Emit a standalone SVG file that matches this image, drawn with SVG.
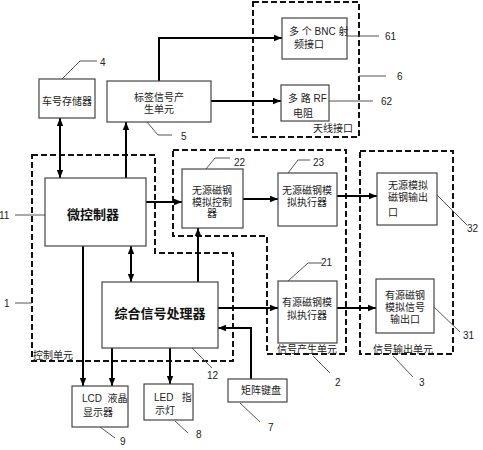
<svg xmlns="http://www.w3.org/2000/svg" width="483" height="450" viewBox="0 0 483 450">
<style>
text{font-family:"Liberation Sans","Noto Sans CJK SC",sans-serif;font-size:10px;fill:#222;white-space:pre}
.c{text-anchor:middle}
.b{font-weight:bold;font-size:13px;fill:#111}
.box{fill:#fff;stroke:#444;stroke-width:1.2}
.dash{fill:none;stroke:#111;stroke-width:2;stroke-dasharray:6,3}
.lead{fill:none;stroke:#555;stroke-width:1}
.con{fill:none;stroke:#000;stroke-width:2}
.a{marker-end:url(#ah)}
.d{marker-start:url(#ah);marker-end:url(#ah)}
</style>
<defs>
<marker id="ah" markerUnits="userSpaceOnUse" markerWidth="8" markerHeight="8" refX="8" refY="4" orient="auto-start-reverse" viewBox="0 0 8 8">
<path d="M0,0.8 L8,4 L0,7.2 z" fill="#000"/>
</marker>
</defs>
<rect width="483" height="450" fill="#fff"/>

<g id="groups">
<path id="g1" class="dash" d="M32,155 H155 V253 H233 V361 H32 Z"/>
<text x="33" y="359">控制单元</text>
<path id="g2" class="dash" d="M173,150 H346 V354 H267 V236 H173 Z"/>
<text x="277" y="353">信号产生单元</text>
<rect id="g3" class="dash" x="360" y="151" width="93" height="203"/>
<text x="373" y="353">信号输出单元</text>
<rect id="g6" class="dash" x="253" y="2" width="106" height="135"/>
<text x="313" y="132">天线接口</text>
</g>

<g id="connectors">
<path class="con d" d="M60,118 V178"/>
<path class="con a" d="M126,178 V122"/>
<path class="con a" d="M159,81 V38 H282"/>
<path class="con a" d="M211,101 H281"/>
<path class="con a" d="M146,202 H182"/>
<path class="con a" d="M243,199 H278"/>
<path class="con a" d="M337,196 H377"/>
<path class="con d" d="M131,246 V282"/>
<path class="con a" d="M198,282 V228"/>
<path class="con a" d="M218,308 H278"/>
<path class="con a" d="M337,308 H376"/>
<path class="con a" d="M251,379 V328 H218"/>
<path class="con a" d="M83,246 V386"/>
<path class="con a" d="M112,348 V386"/>
<path class="con a" d="M170,348 V384"/>
</g>

<g id="leaders">
<path class="lead" d="M62,79 L80,61 H97"/>
<path class="lead" d="M147,122 L158,135 H172"/>
<path class="lead" d="M347,36 H379"/>
<path class="lead" d="M359,76 H386"/>
<path class="lead" d="M329,101 H373"/>
<path class="lead" d="M206,169 L215,158 H230"/>
<path class="lead" d="M288,173 L298,160 H310"/>
<path class="lead" d="M288,281 L308,263 H322"/>
<path class="lead" d="M437,195 L467,225"/>
<path class="lead" d="M434,307 L460,332"/>
<path class="lead" d="M15,215 H45"/>
<path class="lead" d="M15,303 H32"/>
<path class="lead" d="M192,348 L212,368"/>
<path class="lead" d="M100,427 L115,438"/>
<path class="lead" d="M175,421 L188,433"/>
<path class="lead" d="M240,403 L260,422"/>
<path class="lead" d="M313,356 L330,373"/>
<path class="lead" d="M393,356 L413,377"/>
<text x="100" y="66">4</text>
<text x="181" y="140">5</text>
<text x="385" y="40">61</text>
<text x="397" y="80">6</text>
<text x="381" y="105">62</text>
<text x="234" y="166">22</text>
<text x="313" y="166">23</text>
<text x="467" y="232">32</text>
<text x="321" y="266">21</text>
<text x="463" y="339">31</text>
<text x="-1" y="219">11</text>
<text x="4" y="307">1</text>
<text x="207" y="379">12</text>
<text x="120" y="445">9</text>
<text x="196" y="438">8</text>
<text x="268" y="431">7</text>
<text x="335" y="386">2</text>
<text x="419" y="386">3</text>
</g>

<g id="n4"><rect class="box" x="39" y="79" width="56" height="39"/><text class="c" x="67" y="105">车号存储器</text></g>
<g id="n5"><rect class="box" x="107" y="81" width="104" height="41"/><text class="c" x="159" y="101">标签信号产</text><text class="c" x="159" y="113">生单元</text></g>
<g id="n61"><rect class="box" x="282" y="18" width="65" height="41"/><text x="289" y="35">多 个 BNC 射</text><text x="294" y="48">频接口</text></g>
<g id="n62"><rect class="box" x="281" y="85" width="48" height="36"/><text x="288" y="102">多 路 RF</text><text x="293" y="117">电阻</text></g>
<g id="n11"><rect class="box" x="45" y="178" width="101" height="68"/><text class="c b" x="93" y="219">微控制器</text></g>
<g id="n22"><rect class="box" x="182" y="169" width="61" height="59"/><text class="c" x="212" y="194">无源磁钢</text><text class="c" x="212" y="206">模拟控制</text><text class="c" x="212" y="217">器</text></g>
<g id="n23"><rect class="box" x="278" y="173" width="59" height="53"/><text class="c" x="307" y="194">无源磁钢模</text><text class="c" x="307" y="206">拟执行器</text></g>
<g id="n32"><rect class="box" x="377" y="173" width="60" height="52"/><text x="388" y="189">无源模拟</text><text x="388" y="201">磁钢输出</text><text x="388" y="216">口</text></g>
<g id="n21"><rect class="box" x="278" y="281" width="59" height="62"/><text class="c" x="307" y="306">有源磁钢模</text><text class="c" x="307" y="319">拟执行器</text></g>
<g id="n31"><rect class="box" x="376" y="279" width="58" height="54"/><text class="c" x="405" y="299">有源磁钢</text><text class="c" x="405" y="311">模拟信号</text><text class="c" x="405" y="323">输出口</text></g>
<g id="n12"><rect class="box" x="102" y="282" width="116" height="66"/><text class="c b" x="160" y="318">综合信号处理器</text></g>
<g id="n7"><rect class="box" x="228" y="379" width="59" height="23"/><text class="c" x="261" y="394">矩阵键盘</text></g>
<g id="n9"><rect class="box" x="72" y="386" width="56" height="41"/><text x="82" y="402" xml:space="preserve">LCD  液晶</text><text x="83" y="416">显示器</text></g>
<g id="n8"><rect class="box" x="144" y="384" width="49" height="36"/><text x="154" y="401" xml:space="preserve">LED   指</text><text x="155" y="414">示灯</text></g>
</svg>
